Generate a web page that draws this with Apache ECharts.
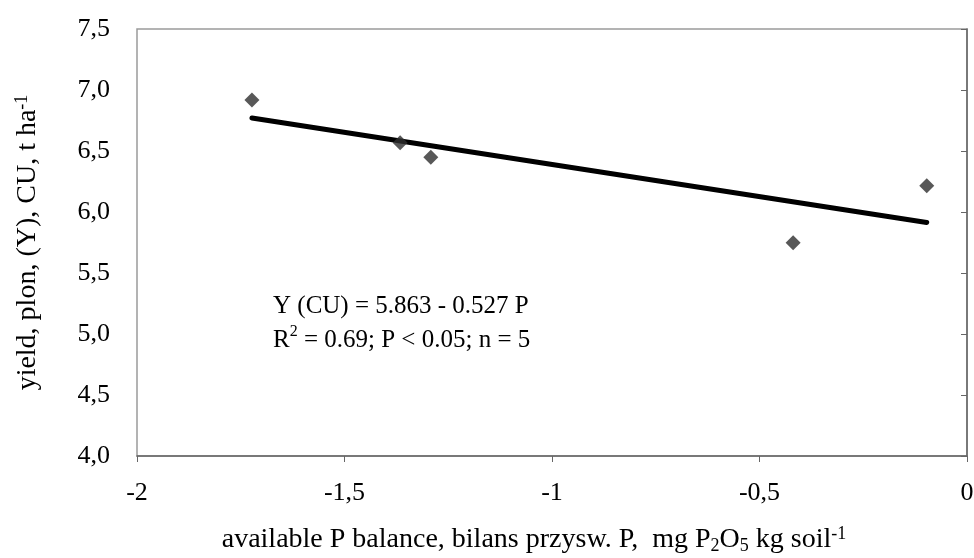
<!DOCTYPE html>
<html>
<head>
<meta charset="utf-8">
<script src="https://cdn.jsdelivr.net/npm/echarts@6/dist/echarts.min.js"></script>
<style>
  html, body { margin: 0; padding: 0; background: #fff; }
  #chart { width: 974px; height: 558px; }
</style>
</head>
<body>
<div id="chart"></div>
<script>
// observed points: P balance vs yield
var pBalance = [-1.723, -1.366, -1.292, -0.419, -0.097];
var yieldCU = [6.918, 6.568, 6.448, 5.748, 6.216];
// regression line ends (Y = 5.863 - 0.527 P)
var lineX = [-1.723, -0.097];
var lineY = [6.771, 5.914];

var serif = '"Liberation Serif", "DejaVu Serif", serif';
var comma = function (v) { return String(v).replace('.', ','); };

var myChart = echarts.init(document.getElementById('chart'));

option = {
    animation: false,
    grid: {
        left: 137, right: 7, top: 29, bottom: 102,
        outerBoundsMode: 'none',
        show: true, borderColor: '#9a9a9a', borderWidth: 1.5
    },
    xAxis: {
        type: 'value', min: -2, max: 0, interval: 0.5,
        splitLine: { show: false },
        axisLine: { onZero: false, lineStyle: { color: '#666', width: 1.5 } },
        axisTick: { length: 6, lineStyle: { color: '#666' } },
        axisLabel: { color: '#000', fontFamily: serif, fontSize: 26, margin: 24, formatter: comma },
        name: '{t|available P balance, bilans przysw. P,  mg P}{sub|2}{t|O}{sub|5}{t| kg soil}{sup|-1}',
        nameLocation: 'middle', nameGap: 69,
        nameTextStyle: {
            padding: [0, 36, 0, 0],
            rich: {
                t: { fontFamily: serif, fontSize: 28, color: '#000' },
                sub: { fontFamily: serif, fontSize: 18, color: '#000', verticalAlign: 'bottom', padding: [10, 0, 0, 0] },
                sup: { fontFamily: serif, fontSize: 18, color: '#000', verticalAlign: 'top', padding: [0, 0, 12, 0] }
            }
        }
    },
    yAxis: {
        type: 'value', min: 4, max: 7.5, interval: 0.5,
        splitLine: { show: false },
        axisLine: { lineStyle: { color: '#666', width: 1.5 } },
        axisTick: { length: 6, lineStyle: { color: '#666' } },
        axisLabel: { color: '#000', fontFamily: serif, fontSize: 26, margin: 27,
            formatter: function (v) { return comma(v.toFixed(1)); } },
        name: '{t|yield, plon, (Y), CU, t ha}{sup|-1}',
        nameLocation: 'middle', nameGap: 94,
        nameTextStyle: {
            rich: {
                t: { fontFamily: serif, fontSize: 28, color: '#000' },
                sup: { fontFamily: serif, fontSize: 18, color: '#000', verticalAlign: 'top', padding: [0, 0, 12, 0] }
            }
        }
    },
    graphic: [{
        type: 'text', left: 273, top: 294,
        style: {
            text: '{t|Y (CU) = 5.863 - 0.527 P}\n{t|R}{sup|2}{t| = 0.69; P < 0.05; n = 5}',
            rich: {
                t: { fontFamily: serif, fontSize: 25, color: '#000', lineHeight: 34 },
                sup: { fontFamily: serif, fontSize: 16, color: '#000', lineHeight: 34, verticalAlign: 'top', padding: [0, 0, 10, 0] }
            }
        }
    }],
    series: [{
        type: 'line',
        data: lineX.map(function (x, i) { return [x, lineY[i]]; }),
        showSymbol: false, symbol: 'none',
        lineStyle: { color: '#000', width: 5, cap: 'round' },
        z: 2
    }, {
        type: 'scatter',
        data: pBalance.map(function (x, i) { return [x, yieldCU[i]]; }),
        symbol: 'diamond', symbolSize: 15,
        itemStyle: { color: '#2e2e2e' },
        z: 3
    }]
};

myChart.setOption(option);
</script>
</body>
</html>
